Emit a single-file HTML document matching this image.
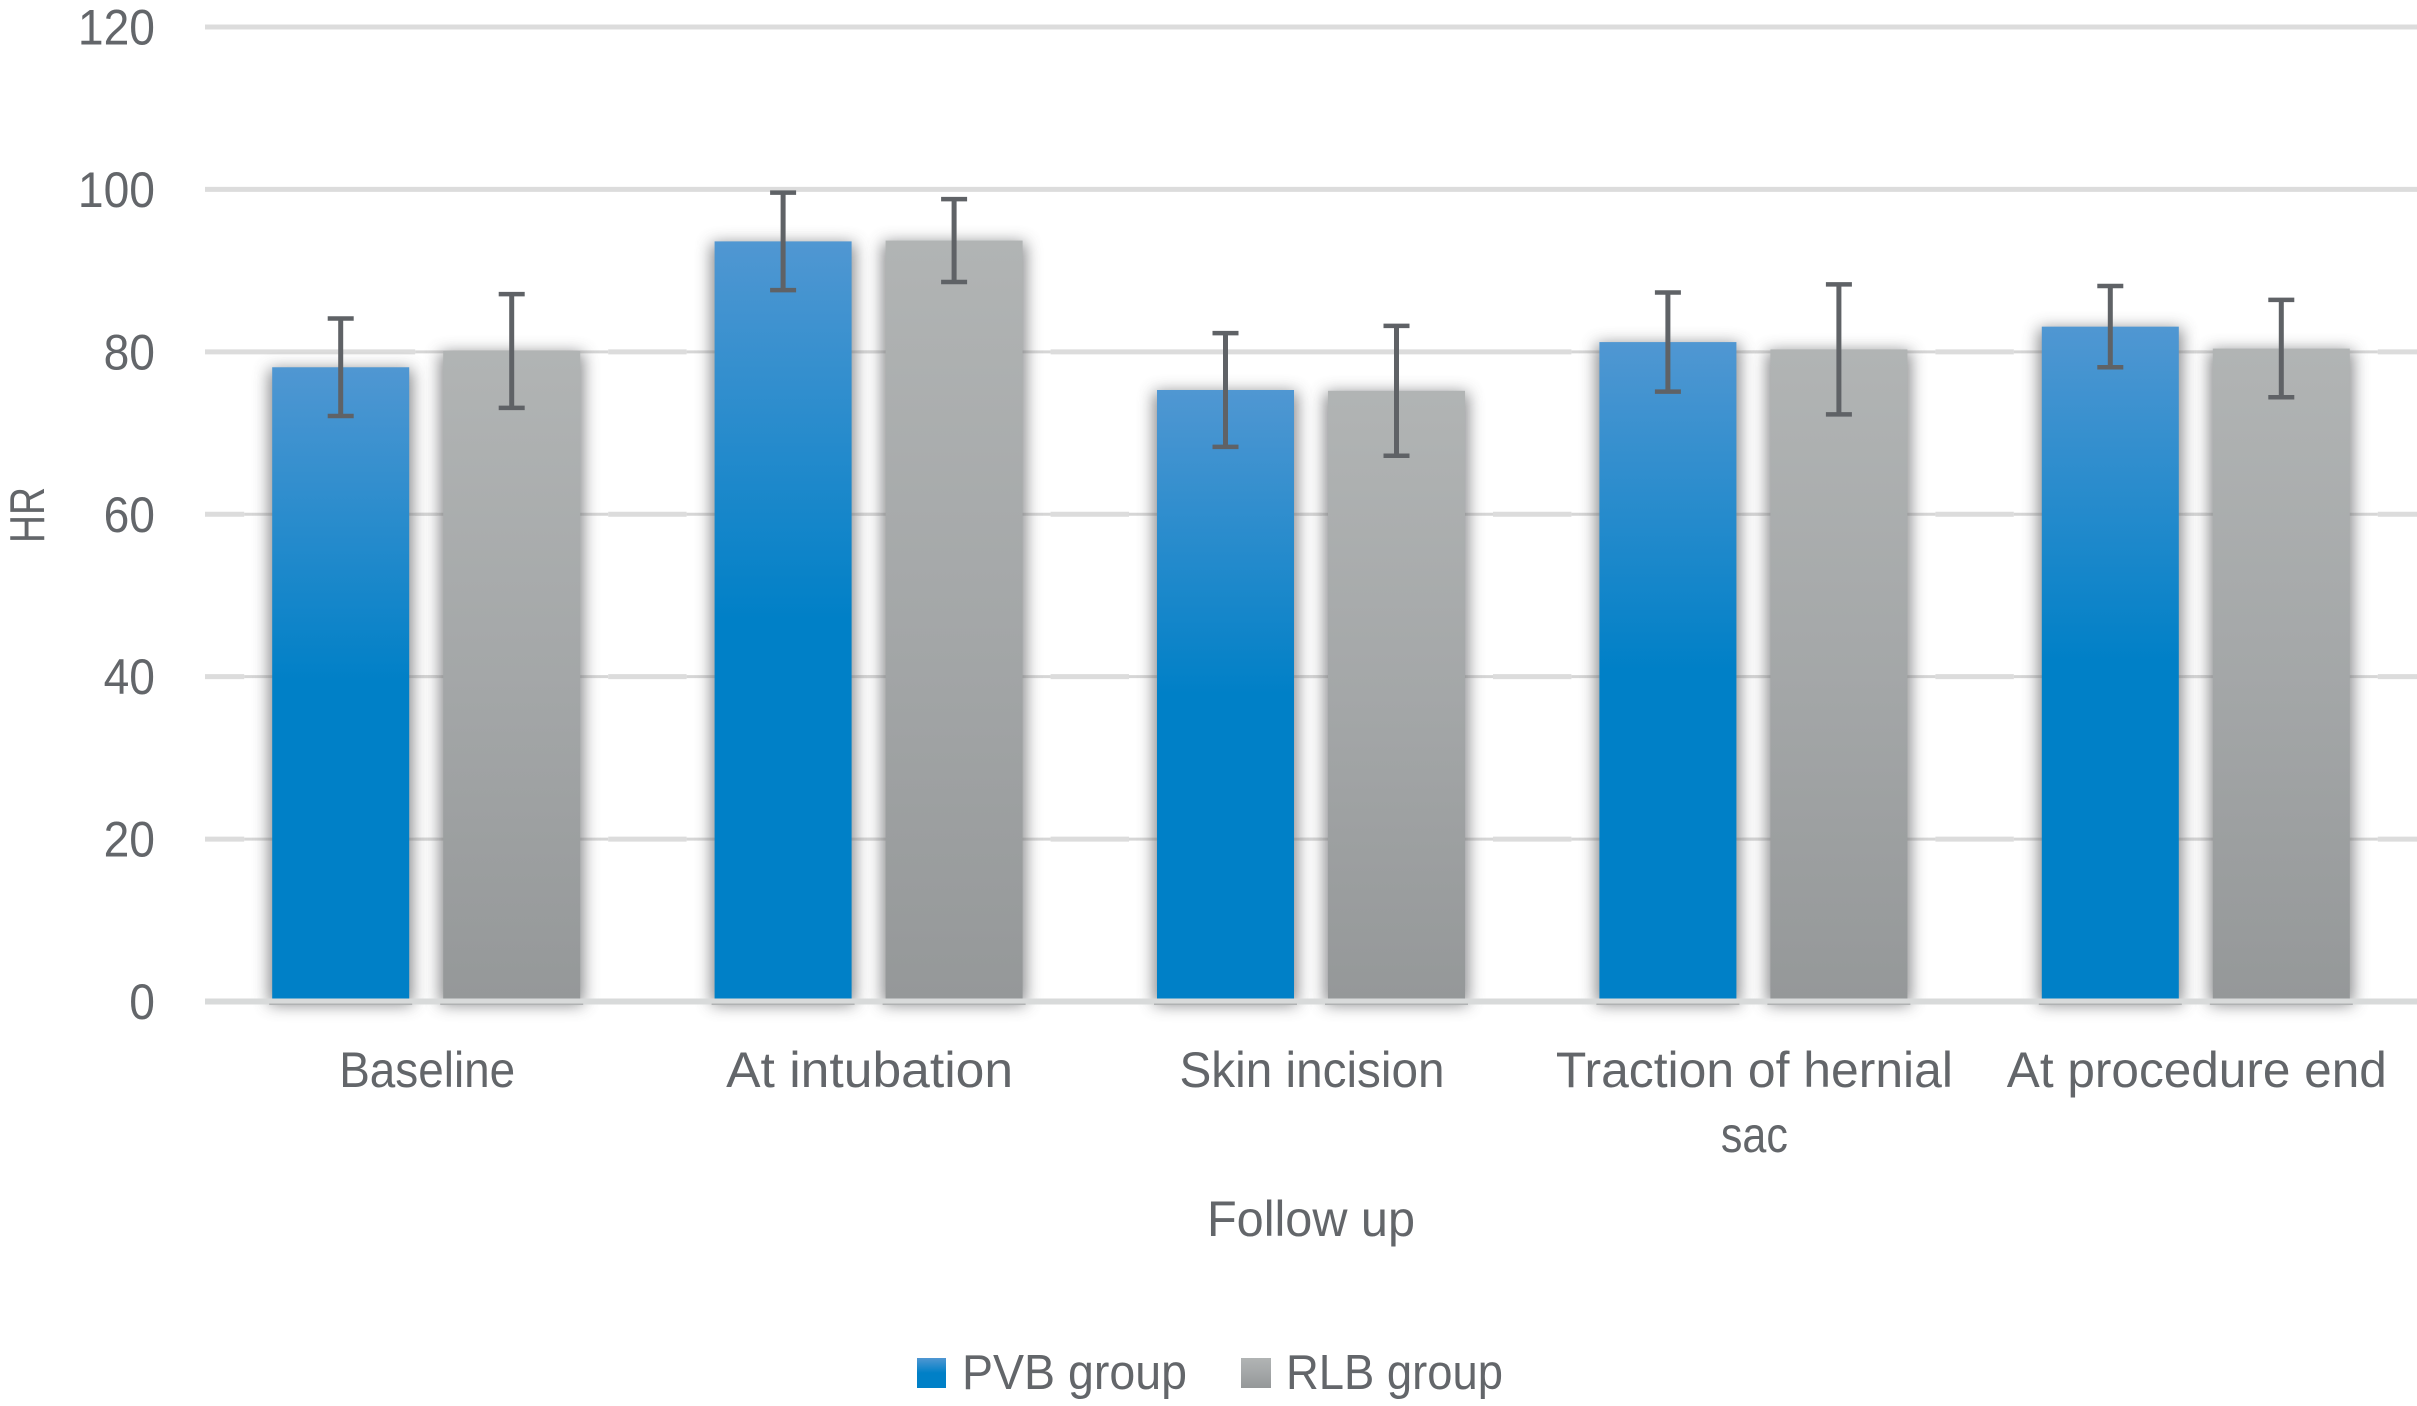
<!DOCTYPE html>
<html lang="en">
<head>
<meta charset="utf-8">
<title>HR by follow up</title>
<style>
html,body{margin:0;padding:0;background:#fff;width:2417px;height:1406px;overflow:hidden}
svg{display:block}
text{font-family:"Liberation Sans",sans-serif;fill:#63666a}
</style>
</head>
<body>
<svg id="chart" xmlns="http://www.w3.org/2000/svg" width="2417" height="1406" viewBox="0 0 2417 1406">
<defs>
<linearGradient id="blueGrad" x1="0" y1="0" x2="0" y2="1">
<stop offset="0" stop-color="#5097d2"/><stop offset="0.5" stop-color="#0080c7"/><stop offset="1" stop-color="#0080c7"/>
</linearGradient>
<linearGradient id="grayGrad" x1="0" y1="0" x2="0" y2="1">
<stop offset="0" stop-color="#b1b4b4"/><stop offset="0.5" stop-color="#a4a7a8"/><stop offset="1" stop-color="#959899"/>
</linearGradient>
<filter id="barShadow" x="-40%" y="-10%" width="180%" height="120%">
<feGaussianBlur stdDeviation="8"/>
</filter>
</defs>
<g id="grid"></g>
<g id="halos"></g>
<g id="gridThin"></g>
<g id="yticks"></g>
<g id="shadows"></g>
<line x1="205" x2="2417" y1="1001.5" y2="1001.5" stroke="#d8dada" stroke-width="6"/>
<g id="baseEdges"></g>
<g id="bars"></g>
<g id="errors"></g>
<g id="xlabels"></g>
<text transform="translate(44,515) rotate(-90)" font-size="49" text-anchor="middle" textLength="56" lengthAdjust="spacingAndGlyphs">HR</text>
<text x="1311" y="1236" font-size="50" text-anchor="middle" textLength="208" lengthAdjust="spacingAndGlyphs">Follow up</text>
<g>
<g>
<rect x="917" y="1358" width="29" height="30" fill="url(#blueGrad)"/>
<text x="962" y="1389" font-size="49" textLength="225" lengthAdjust="spacingAndGlyphs">PVB group</text>
</g>
<g>
<rect x="1241" y="1358" width="30" height="30" fill="url(#grayGrad)"/>
<text x="1286" y="1389" font-size="49" textLength="217" lengthAdjust="spacingAndGlyphs">RLB group</text>
</g>
</g>
</svg>
<script>
const categories = ["Baseline", "At intubation", "Skin incision", "Traction of hernial|sac", "At procedure end"];
const pvbValues = [78.1, 93.6, 75.3, 81.2, 83.1];
const rlbValues = [80.1, 93.7, 75.2, 80.3, 80.4];
const pvbErrors = [6, 6, 7, 6.1, 5];
const rlbErrors = [7, 5.1, 8, 8, 6];
const yTicks = [0, 20, 40, 60, 80, 100, 120];

const NS = "http://www.w3.org/2000/svg";
const plotLeft = 205, plotRight = 2417, zeroY = 1001.5, topY = 27, yMax = 120;
const barWidth = 137, barGap = 34, barBase = 998.5, haloPad = 28;
const y = v => zeroY - (v / yMax) * (zeroY - topY);
const bandWidth = (plotRight - plotLeft) / categories.length;
const bandCenter = i => plotLeft + bandWidth * (i + 0.5);
const barLeft = (i, s) => s === 0 ? bandCenter(i) - barGap / 2 - barWidth : bandCenter(i) + barGap / 2;
const labelWidth = {"Baseline": 176, "At intubation": 287, "Skin incision": 265, "Traction of hernial": 397, "sac": 67, "At procedure end": 380};

function make(tag, attrs, parent) {
  const el = document.createElementNS(NS, tag);
  for (const k in attrs) el.setAttribute(k, attrs[k]);
  parent.appendChild(el);
  return el;
}

const gridG = document.getElementById("grid");
const gridThinG = document.getElementById("gridThin");
const tickG = document.getElementById("yticks");
yTicks.forEach(t => {
  if (t !== 0) {
    const line = make("line", {x1: plotLeft, x2: plotRight, y1: y(t), y2: y(t), stroke: "#dcdcdc", "stroke-width": 5}, gridG);
    
    
  }
  const label = make("text", {x: 155, y: y(t) + 17.5, "font-size": 50, "text-anchor": "end", textLength: String(t).length * 25.7, lengthAdjust: "spacingAndGlyphs"}, tickG);
  label.textContent = t;
  
  
});

const haloG = document.getElementById("halos");
const shadowG = document.getElementById("shadows");
const edgeG = document.getElementById("baseEdges");
const barG = document.getElementById("bars");
const errG = document.getElementById("errors");
[[pvbValues, pvbErrors, "url(#blueGrad)"], [rlbValues, rlbErrors, "url(#grayGrad)"]].forEach((series, s) => {
  const vals = series[0], errs = series[1], fill = series[2];
  vals.forEach((v, i) => {
    const x = barLeft(i, s), top = y(v);
    const halo = make("rect", {x: x - haloPad, y: top - 6, width: barWidth + 2 * haloPad, height: barBase - top + 6, fill: "#fff"}, haloG);
    
    
    yTicks.forEach(t => {
      if (t !== 0 && y(t) > top - 6) {
        const thin = make("line", {x1: x - haloPad, x2: x + barWidth + haloPad, y1: y(t), y2: y(t), stroke: "#d6d6d6", "stroke-width": 3}, gridThinG);
        
        
      }
    });
    const sh = make("rect", {x: x - 3, y: top + 2, width: barWidth + 6, height: barBase - top + 4, fill: "#66686a", opacity: 0.8, filter: "url(#barShadow)"}, shadowG);
    
    
    const edge = make("rect", {x: x - 3, y: 1003.5, width: barWidth + 6, height: 1.5, fill: "#b0b2b3"}, edgeG);
    
    
    const bar = make("rect", {x: x, y: top, width: barWidth, height: barBase - top, fill: fill}, barG);
    
    
    const cx = x + barWidth / 2;
    const hi = y(v + errs[i]), lo = y(v - errs[i]);
    const stem = make("line", {x1: cx, x2: cx, y1: hi, y2: lo, stroke: "#5f6266", "stroke-width": 5}, errG);
    
    
    [hi, lo].forEach(c => {
      const cap = make("line", {x1: cx - 13, x2: cx + 13, y1: c, y2: c, stroke: "#5f6266", "stroke-width": 4.5}, errG);
      
      
    });
  });
});

const labelG = document.getElementById("xlabels");
categories.forEach((c, i) => {
  c.split("|").forEach((part, j) => {
    const t = make("text", {x: bandCenter(i) + 1, y: 1087 + j * 65, "font-size": 50, "text-anchor": "middle", textLength: labelWidth[part], lengthAdjust: "spacingAndGlyphs"}, labelG);
    t.textContent = part;
    
    
  });
});
</script>
</body>
</html>
